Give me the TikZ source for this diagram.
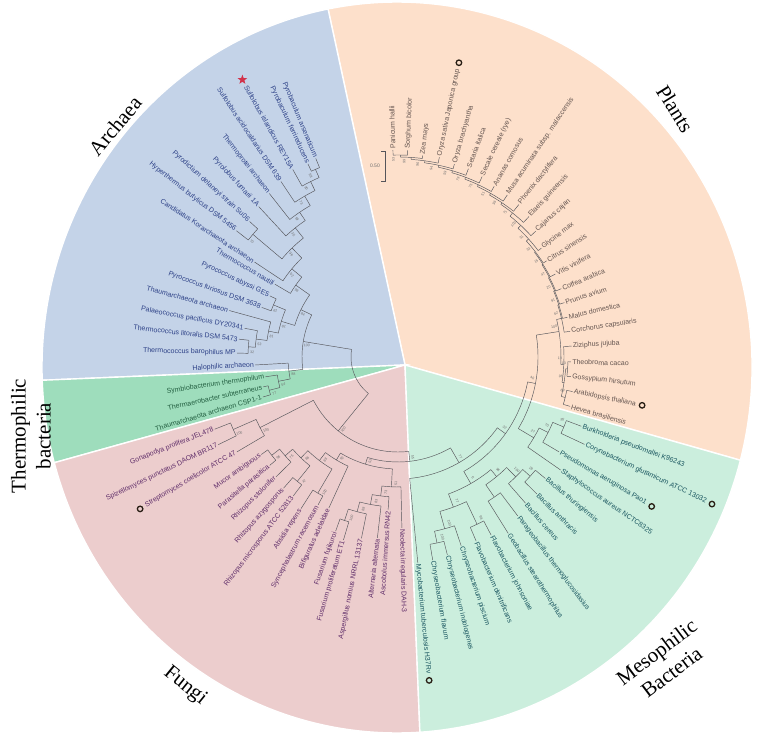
\documentclass[tikz,border=0pt]{standalone}
\usepackage{fontspec}
\setmainfont{Liberation Serif}
\newfontfamily\taxfont{Liberation Sans}
\usetikzlibrary{calc, shapes.geometric}

\definecolor{plantfill}{RGB}{253,224,203}
\definecolor{archfill}{RGB}{196,211,232}
\definecolor{thermofill}{RGB}{158,221,188}
\definecolor{fungifill}{RGB}{236,205,205}
\definecolor{mesofill}{RGB}{203,238,221}
\definecolor{archtext}{RGB}{45,65,135}
\definecolor{planttext}{RGB}{100,85,80}
\definecolor{thermotext}{RGB}{35,95,65}
\definecolor{fungitext}{RGB}{95,45,105}
\definecolor{mesotext}{RGB}{25,85,95}
\definecolor{treeline}{RGB}{85,85,90}
\definecolor{bootgray}{RGB}{110,110,110}
\definecolor{ringcol}{RGB}{40,30,20}
\definecolor{starred}{RGB}{210,50,75}

\begin{document}
\begin{tikzpicture}[x=1pt, y=1pt,
    branch/.style={draw=treeline, line width=0.45pt},
    taxon/.style={font=\taxfont\fontsize{7}{8}\selectfont, inner sep=1.2pt},
    rtaxon/.style={taxon, anchor=west},
    ltaxon/.style={taxon, anchor=east},
    boot/.style={font=\taxfont\fontsize{3.6}{4}\selectfont, text=bootgray, inner sep=0pt},
    ring/.style={circle, draw=ringcol, line width=1.3pt, minimum size=5.5pt, inner sep=0pt},
    starmark/.style={star, star points=5, star point ratio=2.4, fill=starred, minimum size=10pt, inner sep=0pt},
    group/.style={font=\fontsize{21}{25}\selectfont, align=center},
    sector/.style={draw=white, line width=1.4pt}]

\useasboundingbox (0,0) rectangle (760,736);

% coloured sectors
\begin{scope}[shift={(397,368.5)}]
  \filldraw[sector, fill=plantfill] (8,2.5) -- (-14.7:355 and 365.5) arc[start angle=-14.7, end angle=101.2, x radius=355, y radius=365.5] -- cycle;
  \filldraw[sector, fill=archfill] (8,2.5) -- (101.2:355 and 365.5) arc[start angle=101.2, end angle=182, x radius=355, y radius=365.5] -- cycle;
  \filldraw[sector, fill=thermofill] (8,2.5) -- (182:355 and 365.5) arc[start angle=182, end angle=195.1, x radius=355, y radius=365.5] -- cycle;
  \filldraw[sector, fill=fungifill] (8,2.5) -- (195.1:355 and 365.5) arc[start angle=195.1, end angle=273.7, x radius=355, y radius=365.5] -- cycle;
  \filldraw[sector, fill=mesofill] (8,2.5) -- (273.7:355 and 365.5) arc[start angle=273.7, end angle=345.3, x radius=355, y radius=365.5] -- cycle;
\end{scope}

% tree
\begin{scope}[shift={(398,379)}]
  % inner nodes: name/stem angle/radius/parent radius/arc from/arc to/bootstrap
  \foreach \nm/\st/\rad/\rp/\ga/\gb/\bs in {
      n0/200/47/47/170.7/231/{}, aa/170.7/96/47/154/187.4/100, ar/154/108/96/144.9/163/84,
      n8/144.9/125/108/140.3/149.4/98, n7/140.3/138/125/134.2/146.5/92, n6/134.2/152/138/128.5/139.8/96,
      hp/139.8/190/152/137.6/142/70, n5/128.5/165/152/124.2/132.8/35, n4/124.2/175/165/120.1/128.2/59,
      n3/120.1/186/175/116.5/123.7/73, n2/116.5/196/186/113.75/119.3/90, n1/113.75/205/196/112.5/115/98,
      e5/163/122/108/157.3/168.7/81, e1/157.3/135/122/154.5/160/61, e4/168.7/132/122/164.6/172.8/81,
      e3/172.8/143/132/169.4/176.1/53, e2/176.1/150/143/173.6/178.6/32,
      t3/187.4/110/96/183.2/191.5/88, t2/191.5/122/110/188.5/194.5/54, t1/194.5/133/122/192.5/196.5/77,
      bb/231/95/47/207.1/276.5/100, c2/207.1/155/95/203.75/210.5/100, c1/203.75/180/155/201.5/206/100,
      bx/276.5/105/95/253.1/300/55, fz/253.1/112/105/239.1/267.1/52,
      z7/239.1/120/112/232.8/245.4/92, z6/232.8/130/120/226.1/239.5/88, z4/226.1/140/130/221.2/231/86,
      z2/221.2/150/140/217.9/224.5/75, z1/217.9/160/150/215.5/220.2/96, z3/231/160/140/228.9/233/47,
      z5/239.5/158/130/237.4/241.6/100,
      d5/267.1/130/112/262.9/271.3/51, d4/262.9/140/130/259.4/266.3/73, d3/259.4/150/140/255.2/263.5/83,
      d2/255.2/160/150/251.9/258.6/88, d1/251.9/172/160/250.3/253.4/100,
      m77/-60/122/105/-84.5/-35.5/77, m32/-35.5/132/122/-60.1/-10.9/32, m6/-60.1/146/132/-69.75/-50.5/6,
      b4/-50.5/155/146/-55.5/-45.5/96, b3/-55.5/170/155/-58/-53/{}, b2/-45.5/168/155/-48.9/-42.05/100,
      b1/-42.05/178/168/-44.6/-39.5/28, fv2/-69.75/160/146/-74.8/-64.7/77, fv1/-64.7/185/160/-67/-62.4/98,
      cy2/-74.8/178/160/-78.15/-71.5/100, cy1/-78.15/190/178/-80.3/-76/100,
      pl40/-10.9/140/132/-30.75/9/40, ps3/-30.75/158/140/-34.8/-26.7/27, ps2/-26.7/168/158/-30.5/-22.9/70,
      ps1/-22.9/180/168/-25.1/-20.7/95,
      pr/9/163/140/-2.6/13.3/100, q3/-2.6/166/163/-8.8/3.6/18, q4/-8.8/168/166/-13.6/-4.05/98,
      q5/-4.05/170/168/-6.5/-1.6/13, qah/-13.6/172/168/-16/-11.2/69,
      q7/13.3/168/163/8.5/18/62, q8/18/169/168/13.2/22.9/91, q9/22.9/170/169/18.1/27.7/20,
      q10/27.7/171/170/22.7/32.6/47, q11/32.6/172/171/27.8/37.5/15, q12/37.5/173/172/32.9/42.1/33,
      q13/42.1/176/173/37.2/47/31, q14/47/180/176/42.4/51.5/100, q15/51.5/184/180/47/56/71,
      q16/56/186/184/51.6/60.5/96, q17/60.5/188/186/56/65/51, q18/65/190/188/60.6/69.4/75,
      q19/69.4/192/190/65/73.7/79, q20/73.7/194/192/69.5/78/59, q21/78/196/194/73.7/82.2/94,
      q22/82.2/198/196/78.3/86.2/96, q23/86.2/200/198/83/89.35/99, q24/89.35/202/200/87.3/91.4/53}{
    \draw[branch] (\ga:\rad) arc[start angle=\ga, end angle=\gb, radius=\rad];
    \draw[branch] (\st:\rp) -- (\st:\rad) coordinate (\nm);
    \pgfmathsetmacro\rot{ifthenelse(and(\st>100,\st<270),\st+180,\st)}
    \node[boot, rotate=\rot] at ({\st+2}:{\rad-4}) {\bs};
  }

  % leaves: name/angle/parent radius/tip radius/text
  \foreach \nm/\ang/\rp/\tip/\txt in {
      arsen/112.5/205/215/Pyrobaculum arsenaticum, ferri/115/205/213/Pyrobaculum ferrireducens,
      isl/119.3/196/215/Sulfolobus islandicus REY15A, acido/123.7/186/211/Sulfolobus acidocaldarius DSM 639,
      tprot/128.2/175/208/Thermoprotei archaeon, fumar/132.8/165/205/Pyrolobus fumarii 1A,
      delan/137.6/190/201/Pyrodictium delaneyi strain Su06, butyl/142/190/205/Hyperthermus butylicus DSM 5456,
      korar/146.5/138/172/Candidatus Korarchaeota archaeon, nauti/149.4/125/143/Thermococcus nautili,
      abyss/154.5/135/142/Pyrococcus abyssi GE5, furio/160/135/145/Pyrococcus furiosus DSM 3638,
      thaum/164.6/132/175/Thaumarchaeota archaeon, palae/169.4/143/156/Palaeococcus pacificus DY20341,
      litor/173.6/150/160/Thermococcus litoralis DSM 5473, barop/178.6/150/161/Thermococcus barophilus MP,
      halo/183.2/110/143/Halophilic archaeon}{
    \draw[branch] (\ang:\rp) -- (\ang:\tip);
    \node[ltaxon, text=archtext, rotate=\ang+180] (\nm) at (\ang:\tip) {\txt};
  }
  \foreach \nm/\ang/\rp/\tip/\txt in {
      symb/188.5/122/134/Symbiobacterium thermophilum, subt/192.5/133/138/Thermaerobacter subterraneus,
      csp/196.5/133/141/Thaumarchaeota archaeon CSP1-1}{
    \draw[branch] (\ang:\rp) -- (\ang:\tip);
    \node[ltaxon, text=thermotext, rotate=\ang+180] (\nm) at (\ang:\tip) {\txt};
  }
  \foreach \nm/\ang/\rp/\tip/\txt in {
      gona/201.5/180/197/Gonapodya prolifera JEL478, spiz/206/180/200/Spizellomyces punctatus DAOM BR117,
      strep/210.5/155/187/Streptomyces coelicolor ATCC 47, mucor/215.5/160/168/Mucor ambiguous,
      paras/220.2/160/168/Parasitella parasitica, stolo/224.5/150/171/Rhizopus stolonifer,
      azygo/228.9/160/174/Rhizopus azygosporus, micro/233/160/174/Rhizopus microsporus ATCC 52813,
      absid/237.4/158/180/Absidia repens, synce/241.6/158/168/Syncephalastrum racemosum,
      bifig/245.4/120/166/Bifiguratus adelaidae, fujik/250.3/172/185/Fusarium fujikuroi,
      proli/253.4/172/191/Fusarium proliferatum ET1, asper/258.6/160/185/Aspergillus nomius NRRL 13137,
      alter/263.5/150/182/Alternaria alternata, ascob/266.3/140/153/Ascobolus immersus RN42}{
    \draw[branch] (\ang:\rp) -- (\ang:\tip);
    \node[ltaxon, text=fungitext, rotate=\ang+180] (\nm) at (\ang:\tip) {\txt};
  }
  \draw[branch] (271.3:130) -- (271.3:171);
  \node[rtaxon, text=fungitext, rotate=271.3] (neole) at (271.3:171) {Neolecta irregularis DAH-3};
  \foreach \nm/\ang/\rp/\tip/\txt in {
      mycob/-84.5/122/207/Mycobacterium tuberculosis H37Rv, cflav/-80.3/190/206/Chryseobacterium flavum,
      cindo/-76/190/204/Chryseobacterium indologenes, cpisc/-71.5/178/199/Chryseobacterium piscium,
      fdeni/-67/185/200/Flavobacterium denitrificans, fjohn/-62.4/185/201/Flavobacterium johnsoniae,
      geoba/-58/170/208/Geobacillus stearothermophilus, parag/-53/170/199/Parageobacillus thermoglucosidasius,
      bcere/-48.9/168/194/Bacillus cereus, banth/-44.6/178/195/Bacillus anthracis,
      bthur/-39.5/178/191/Bacillus thuringiensis, staph/-34.8/158/198/Staphylococcus aureus NCTC8325,
      pseud/-30.5/168/187/Pseudomonas aeruginosa Pao1, coryn/-25.1/180/206/Corynebacterium glutamicum ATCC 13032,
      burkh/-20.7/180/196/Burkholderia pseudomallei K96243}{
    \draw[branch] (\ang:\rp) -- (\ang:\tip);
    \node[rtaxon, text=mesotext, rotate=\ang] (\nm) at (\ang:\tip) {\txt};
  }
  \foreach \nm/\ang/\rp/\tip/\txt in {
      hevea/-16/172/179/Hevea brasiliensis, arabi/-11.2/172/178/Arabidopsis thaliana,
      gossy/-6.5/170/174/Gossypium hirsutum, theob/-1.6/170/173/Theobroma cacao,
      zizip/3.6/166/174/Ziziphus jujuba, corch/8.5/168/174/Corchorus capsularis,
      malus/13.2/169/174/Malus domestica, prunu/18.1/170/175/Prunus avium,
      coffe/22.7/171/177/Coffea arabica, vitis/27.8/172/178/Vitis vinifera,
      citru/32.9/173/177/Citrus sinensis, glyci/37.2/176/180/Glycine max,
      cajan/42.4/180/186.5/Cajanus cajan, elaei/47/184/192/Elaeis guineensis,
      phoen/51.6/186/194.5/Phoenix dactylifera, musa/56/188/195.5/Musa acuminata subsp. malaccensis,
      anana/60.6/190/196/Ananas comosus, secal/65/192/199/Secale cereale (rye),
      setar/69.5/194/201/Setaria italica, obrac/73.7/196/201/Oryza brachyantha,
      osati/78.3/198/204/Oryza sativa Japonica group, zea/83/200/203/Zea mays,
      sorgh/87.3/202/207/Sorghum bicolor, panic/91.4/202/207/Panicum hallii}{
    \draw[branch] (\ang:\rp) -- (\ang:\tip);
    \node[rtaxon, text=planttext, rotate=\ang] (\nm) at (\ang:\tip) {\txt};
  }
\end{scope}

% markers
\node[ring] at ($(osati.east)!-5pt!(osati.west)$) {};
\node[ring] at ($(arabi.east)!-5pt!(arabi.west)$) {};
\node[ring] at ($(coryn.east)!-5pt!(coryn.west)$) {};
\node[ring] at ($(pseud.east)!-5pt!(pseud.west)$) {};
\node[ring] at ($(mycob.east)!-5pt!(mycob.west)$) {};
\node[ring] at ($(strep.west)!-5pt!(strep.east)$) {};
\node[starmark] at ($(isl.west)!-6pt!(isl.east)$) {};

% scale bar
\draw[branch] (381,585) -- (385,585) -- (385,555) -- (381,555);
\node[boot, font=\taxfont\fontsize{5}{6}\selectfont, anchor=east] (scalelbl) at (380,570) {0.50};

% group names
\node[group, rotate=50] (archlbl) at (115,610) {Archaea};
\node[group, rotate=-58] (plantlbl) at (675,627) {Plants};
\node[group, rotate=90] (thermolbl) at (31,300) {Thermophilic\\bacteria};
\node[group, rotate=-39] (fungilbl) at (185,50) {Fungi};
\node[group, rotate=37] (mesolbl) at (664,74) {Mesophilic\\Bacteria};
\end{tikzpicture}
\end{document}
